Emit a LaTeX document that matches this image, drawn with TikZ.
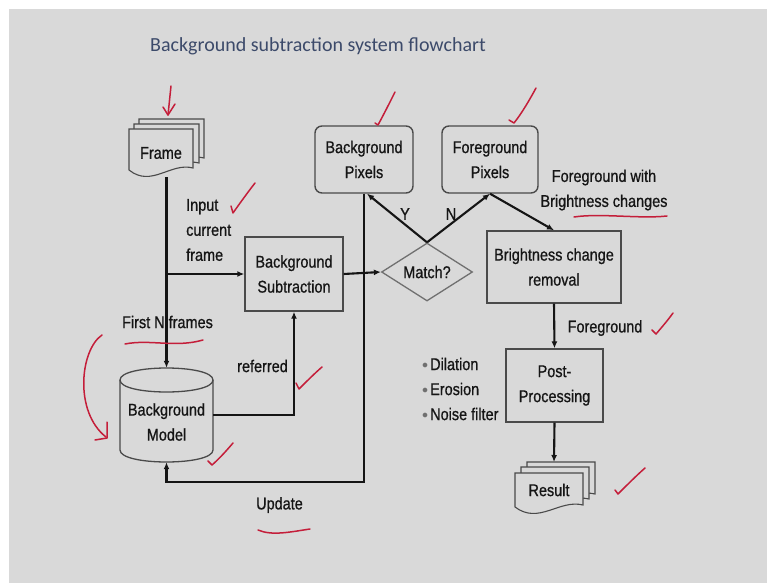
\documentclass[tikz,border=0pt]{standalone}
\usepackage{fontspec}
\setmainfont{Liberation Sans}[FakeStretch=0.85,FakeBold=0.8]
\newfontfamily\titlefont{Carlito}
\usetikzlibrary{shapes.geometric,arrows.meta,calc}
\definecolor{bg}{HTML}{D9D9D9}
\definecolor{edgec}{HTML}{4A4A4A}
\definecolor{diamc}{HTML}{707070}
\definecolor{ink}{HTML}{151515}
\definecolor{pen}{HTML}{C41E3A}
\definecolor{titlec}{HTML}{3C4A6A}
% document shape: x0, top, x1, bottom-left y
\newcommand\docshape[4]{%
  \filldraw[docline] (#1,#2) -- (#3,#2) -- (#3,{#4-2})
    .. controls ({#1+0.65*(#3-#1)},{#4-8}) and ({#1+0.35*(#3-#1)},{#4+18}) .. (#1,#4) -- cycle;}
\newcommand\blt{\textcolor{diamc}{\raisebox{1.2pt}{\fontsize{12}{12}\selectfont$\bullet$}}\hspace{2pt}}
\begin{document}
\begin{tikzpicture}[x=1pt,y=-1pt,
  font=\fontsize{17}{25}\selectfont, text=ink,
  box/.style={draw=edgec, line width=1.4pt, fill=bg, inner sep=0pt, align=center},
  docline/.style={draw=edgec, line width=1.1pt, fill=bg},
  flow/.style={draw=ink, line width=2.1pt, -{Latex[length=7pt,width=6pt]}},
  lbl/.style={inner sep=0pt, align=center},
  redink/.style={draw=pen, line width=1.5pt, line cap=round, line join=round}]
\useasboundingbox (0,0) rectangle (767,583);
\fill[white] (0,0) rectangle (767,583);
\fill[bg] (9,9) rectangle (767,583);

% title
\node[font=\titlefont\fontsize{20}{24}\selectfont, text=titlec] (title) at (318,46) {Background subtraction system flowchart};

% Frame stack
\docshape{139}{119}{204}{160}
\docshape{134}{124}{199}{165}
\docshape{129}{129}{193}{170}
\node[lbl, minimum width=64pt, minimum height=48pt] (frame) at (161,153) {Frame};

% Result stack
\docshape{527}{462}{595}{496}
\docshape{521}{467}{589}{501}
\docshape{515}{473}{583}{507}
\node[lbl, minimum width=68pt, minimum height=34pt] (result) at (549,490) {Result};
\coordinate (resulttop) at (554,462);

% cylinder
\filldraw[docline, line width=1.3pt] (120,380) -- (120,450) .. controls (120,466) and (213,466) .. (213,450)
  -- (213,380) .. controls (213,364) and (120,364) .. (120,380) -- cycle;
\draw[edgec, line width=1.3pt] (120,380) .. controls (120,396) and (213,396) .. (213,380);
\node[inner sep=0pt, minimum width=93pt, minimum height=94pt] (bgm) at (166.5,415) {};
\node[lbl] (bgmtext) at (166.5,422) {Background\\Model};

% boxes
\node[box, minimum width=98pt, minimum height=74pt] (bgsub) at (294,274) {Background\\Subtraction};
\node[box, rounded corners=7pt, minimum width=98pt, minimum height=67pt] (bgpix) at (364,159.5) {Background\\Pixels};
\node[box, rounded corners=7pt, minimum width=96pt, minimum height=67pt] (fgpix) at (490,159.5) {Foreground\\Pixels};
\node[box, minimum width=134pt, minimum height=72pt] (bcr) at (554,267) {Brightness change\\removal};
\node[box, minimum width=97pt, minimum height=73pt] (post) at (554.5,385.5) {Post-\\Processing};
\node[draw=diamc, line width=1.3pt, fill=bg, diamond, aspect=1.57, inner sep=0pt,
  minimum width=91pt, minimum height=58pt] (match) at (427,272) {};
\node[lbl] (matchtext) at (427,272) {Match?};

% connectors
\draw[flow] (frame.south -| bgm.north) -- (bgm.north);
\draw[flow] (bgm.north |- bgsub.west) -- (bgsub.west);
\draw[flow] (bgm.east) -| (bgsub.south);
\draw[flow] (bgpix.south) -- (bgpix.south |- 0,482) -| (bgm.south);
\draw[flow] (bgsub.east) -- (match.west);
\draw[flow] (match.north) -- ([xshift=3pt]bgpix.south);
\draw[flow] (match.north) -- (fgpix.south);
\draw[flow] (fgpix.south) -- (bcr.north);
\draw[flow] (bcr.south) -- (post.north);
\draw[flow] (post.south) -- (resulttop);

% labels
\node[lbl, anchor=west, align=left] (inputlbl) at (186,230) {Input\\current\\frame};
\node[lbl] (firstn) at (167.5,322) {First N frames};
\node[lbl] (referred) at (262.5,366) {referred};
\node[lbl] (update) at (279.5,505) {Update};
\node[lbl] (ylbl) at (405,214) {Y};
\node[lbl] (nlbl) at (451,214) {N};
\node[lbl] (fgbright) at (604,190) {Foreground with\\Brightness changes};
\node[lbl] (fglbl) at (605,328) {Foreground};
\node[lbl, anchor=west, align=left] (ops) at (422,389) {\blt Dilation\\\blt Erosion\\\blt Noise filter};

% red annotations
\draw[redink] (171,86) -- (168,115);
\draw[redink] (163,107) -- (168,115) -- (175,104);
\draw[redink] (231,206) -- (233,213) .. controls (240,203) and (248,192) .. (255,183);
\draw[redink] (102,335) .. controls (80,350) and (74,412) .. (106,437);
\draw[redink] (107,422) -- (107,438) -- (95,440);
\draw[redink] (125,344) .. controls (150,339) and (175,348) .. (203,340);
\draw[redink] (296,383) -- (299,389) .. controls (307,381) and (315,373) .. (322,367);
\draw[redink] (208,461) -- (212,465) .. controls (220,458) and (227,450) .. (233,443);
\draw[redink] (375,123) -- (378,125) .. controls (385,112) and (390,102) .. (395,92);
\draw[redink] (509,120) -- (514,123) .. controls (522,113) and (530,99) .. (536,88);
\draw[redink] (574,217) .. controls (600,213) and (640,219) .. (667,216);
\draw[redink] (652,330) -- (656,334) .. controls (662,327) and (668,320) .. (673,313);
\draw[redink] (615,490) -- (618,494) .. controls (627,485) and (636,476) .. (645,468);
\draw[redink] (258,530) .. controls (272,536) and (290,532) .. (310,529);
\end{tikzpicture}
\end{document}
